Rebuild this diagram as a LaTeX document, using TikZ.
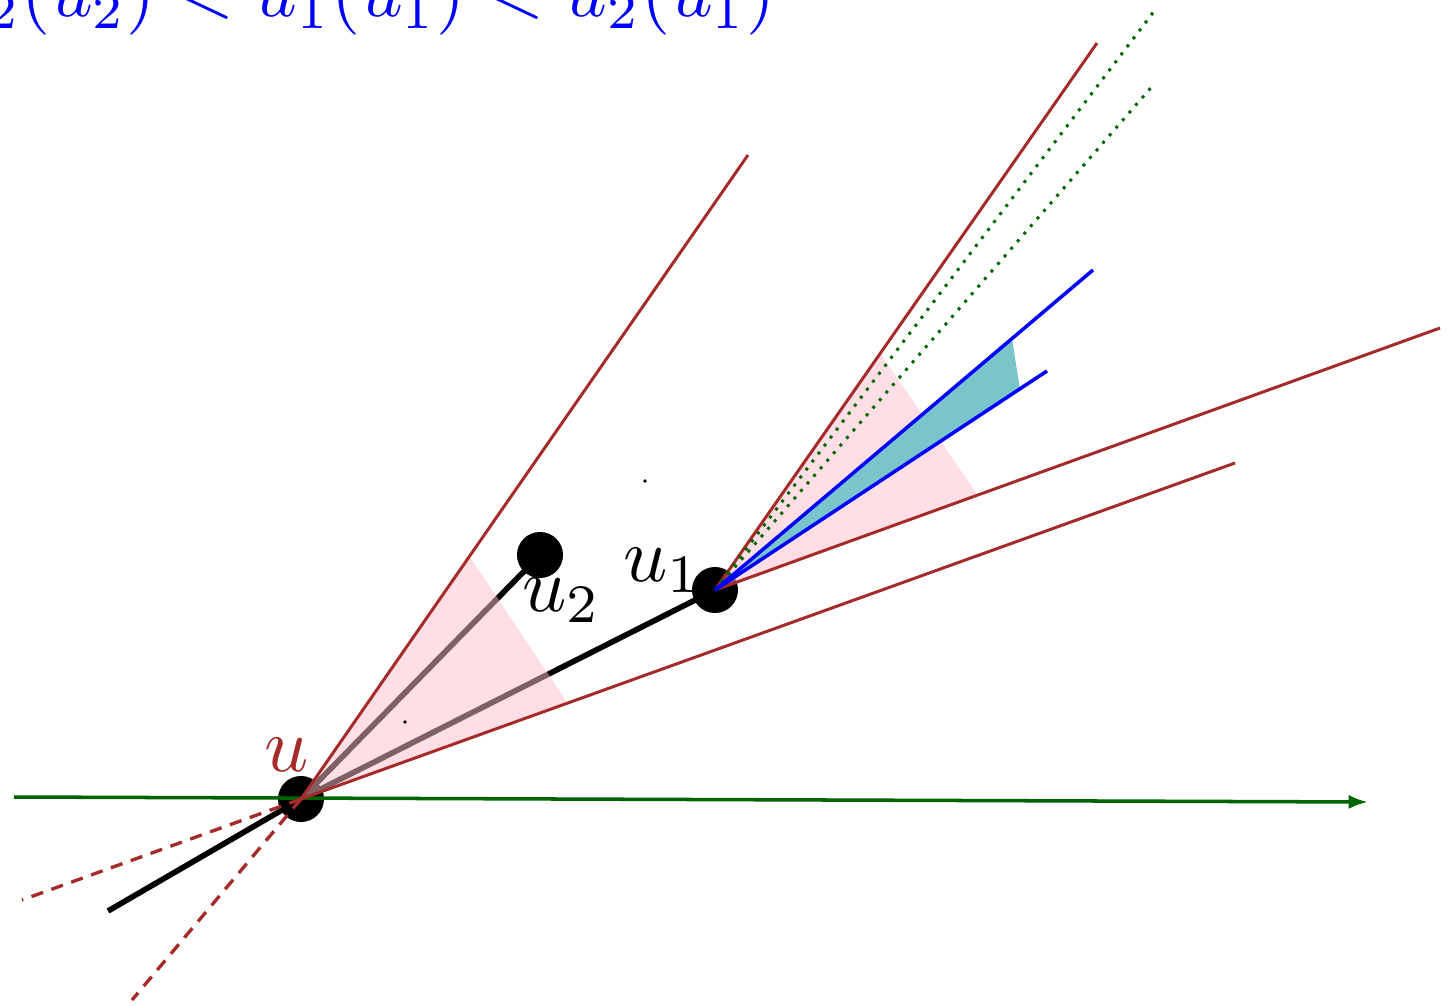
\documentclass[tikz,border=0pt]{standalone}
\usetikzlibrary{arrows.meta}
\definecolor{brn}{RGB}{165,42,42}
\definecolor{dgreen}{RGB}{0,100,0}
\definecolor{tealfill}{RGB}{122,196,204}
\definecolor{pinkc}{RGB}{255,192,203}
\begin{document}
\begin{tikzpicture}[x=0.01cm,y=-0.01cm,
  vertex/.style={circle,fill=black,inner sep=0pt,minimum size=0.46cm},
  tinydot/.style={circle,fill=black,inner sep=0pt,minimum size=1.1pt},
  blk/.style={line width=1.6pt,black},
  brnline/.style={line width=0.85pt,brn},
  brndash/.style={line width=0.95pt,brn,dash pattern=on 3.5pt off 2.5pt},
  blueline/.style={line width=1pt,blue},
  gdot/.style={line width=0.85pt,dgreen,dotted},
  axis/.style={line width=1pt,dgreen,-{Latex[length=5.5pt,width=4pt]}},
  conefill/.style={fill=pinkc,opacity=0.5},
  lbl/.style={inner sep=0pt,scale=2.2}]
\useasboundingbox (0,0) rectangle (1448,1006);
% vertices
\node[vertex] (u) at (301,799) {};
\node[vertex] (u1) at (715,590) {};
\node[vertex] (u2) at (540,555) {};
\coordinate (s) at (108,911);
% black edges
\draw[blk] (s) -- (u.center);
\draw[blk] (u.center) -- (u1.center);
\draw[blk] (u.center) -- (u2.center);
% cone coordinates
\coordinate (uA) at (748,155);
\coordinate (uB) at (1235,463);
\coordinate (uC) at (22,900);
\coordinate (uD) at (132,1000);
\coordinate (u1A) at (1097,43);
\coordinate (u1B) at (1440,328);
\coordinate (pA) at (470,557);
\coordinate (pB) at (567,702);
\coordinate (qA) at (880,353);
\coordinate (qB) at (977,494);
\coordinate (b1) at (1093,270);
\coordinate (b2) at (1047,371);
\coordinate (tA) at (1012,339);
\coordinate (tB) at (1020,389);
\coordinate (g1) at (1155,10);
\coordinate (g2) at (1155,83);
\coordinate (ax0) at (14,797);
\coordinate (ax1) at (1368,802);
% fills
\fill[conefill] (u.center) -- (pA) -- (pB) -- cycle;
\fill[conefill] (u1.center) -- (qA) -- (qB) -- cycle;
\fill[tealfill] (u1.center) -- (tA) -- (tB) -- cycle;
% axis
\draw[axis] (ax0) -- (ax1);
% brown cone lines
\draw[brnline] (u.center) -- (uA);
\draw[brnline] (u.center) -- (uB);
\draw[brndash] (u.center) -- (uC);
\draw[brndash] (u.center) -- (uD);
\draw[brnline] (u1.center) -- (u1A);
\draw[brnline] (u1.center) -- (u1B);
% dotted green
\draw[gdot] (u1.center) -- (g1);
\draw[gdot] (u1.center) -- (g2);
% blue lines
\draw[blueline] (u1.center) -- (b1);
\draw[blueline] (u1.center) -- (b2);
% tiny dots
\node[tinydot] (d1) at (645,481) {};
\node[tinydot] (d2) at (405,722) {};
% labels
\node[lbl,text=brn,anchor=base] (lu) at (287,771) {$u$};
\node[lbl,anchor=base west] (lu1) at (622,581) {$u_1$};
\node[lbl,anchor=base west] (lu2) at (521,611) {$u_2$};
\node[lbl,scale=0.965,text=blue,anchor=base east] (eq) at (777,17) {$u_2(u_2) < u_1(u_1) < u_2(u_1)$};
\end{tikzpicture}
\end{document}
